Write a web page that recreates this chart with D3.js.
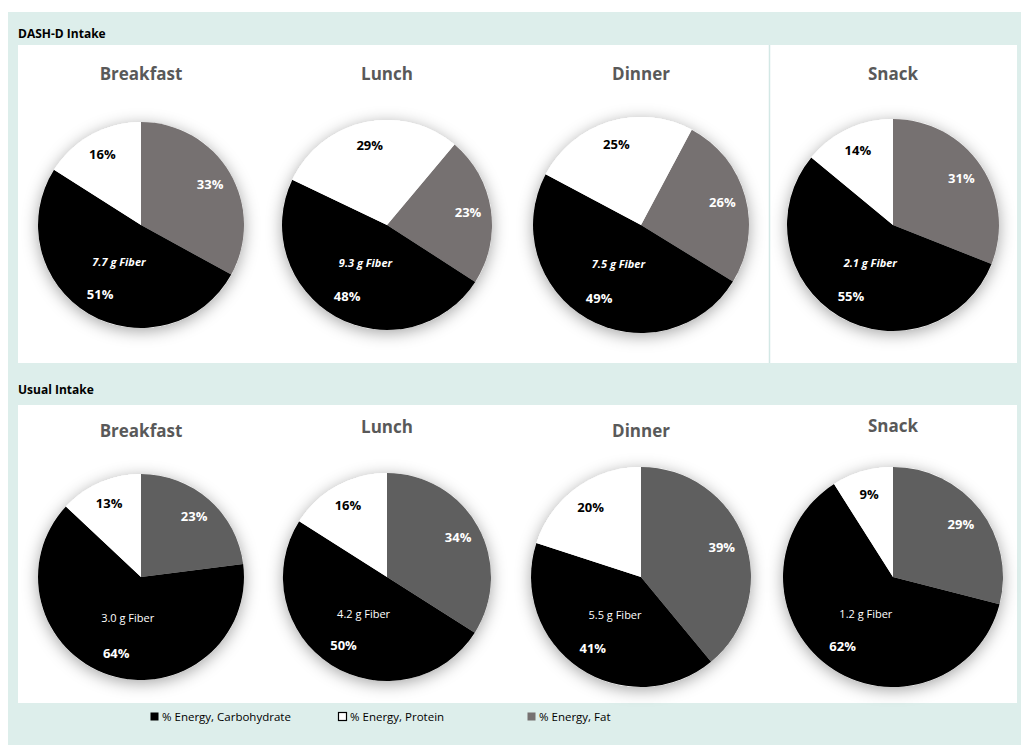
<!DOCTYPE html>
<html><head><meta charset="utf-8">
<script src="https://cdn.jsdelivr.net/npm/d3@7"></script>
<style>html,body{margin:0;padding:0;background:#fff;}svg{display:block;font-family:"Open Sans",sans-serif;}</style>
</head><body>
<svg id="chart" width="1021" height="753"></svg>
<script>
// ---- data ----
const meals = ["Breakfast", "Lunch", "Dinner", "Snack"];
const sections = ["DASH-D Intake", "Usual Intake"];
const seriesNames = ["% Energy, Carbohydrate", "% Energy, Protein", "% Energy, Fat"];
const dashCarb = [51, 48, 49, 55];
const dashProtein = [16, 29, 25, 14];
const dashFat = [33, 23, 26, 31];
const dashFiber = ["7.7 g Fiber", "9.3 g Fiber", "7.5 g Fiber", "2.1 g Fiber"];
const usualCarb = [64, 50, 41, 62];
const usualProtein = [13, 16, 20, 9];
const usualFat = [23, 34, 39, 29];
const usualFiber = ["3.0 g Fiber", "4.2 g Fiber", "5.5 g Fiber", "1.2 g Fiber"];

// ---- layout ----
const W = 1021, H = 753;
const teal = "#ddeeeb";
const colX = [141, 387, 641, 893];
const rowY = [225, 577];
const radii = [[103, 105, 108, 106], [103, 104, 110, 110]];
const startDeg = [[0, 40, 28, 0], [0, 0, 0, 0]];   // first-slice rotation per pie
const titleY = [[80, 80, 80, 80], [437, 433, 437, 432]];
const fatColor = ["#767171", "#5f5f5f"];

const svg = d3.select("#chart");
const defs = svg.append("defs");
const f = defs.append("filter").attr("id", "shadow").attr("x", "-40%").attr("y", "-40%").attr("width", "180%").attr("height", "180%");
f.append("feDropShadow").attr("dx", 0).attr("dy", 3).attr("stdDeviation", 8).attr("flood-color", "#000").attr("flood-opacity", 0.36);

// backgrounds
svg.append("rect").attr("x", 8).attr("y", 12).attr("width", W - 8).attr("height", 733).attr("fill", teal);
svg.append("rect").attr("x", 18).attr("y", 45).attr("width", 999).attr("height", 318).attr("fill", "#fff");
svg.append("rect").attr("x", 18).attr("y", 405).attr("width", 999).attr("height", 298).attr("fill", "#fff");
svg.append("line").attr("x1", 769.5).attr("x2", 769.5).attr("y1", 45).attr("y2", 363).attr("stroke", "#d3e8e5").attr("stroke-width", 1.5);

// section headers
const headerY = [38, 394];
sections.forEach((s, i) => {
  svg.append("text").attr("x", 18).attr("y", headerY[i]).attr("font-size", 12).attr("font-weight", 700)
    .attr("fill", "#000").text(s);
});

const allData = [
  { carb: dashCarb, protein: dashProtein, fat: dashFat, fiber: dashFiber, italic: true },
  { carb: usualCarb, protein: usualProtein, fat: usualFat, fiber: usualFiber, italic: false }
];

allData.forEach((sec, si) => {
  meals.forEach((m, mi) => {
    const cx = colX[mi], cy = rowY[si], r = radii[si][mi];
    const a0 = startDeg[si][mi] * Math.PI / 180;
    const pie = d3.pie().sort(null).value(d => d.v).startAngle(a0).endAngle(a0 + 2 * Math.PI);
    const slices = [
      { k: "fat", v: sec.fat[mi], fill: fatColor[si], lab: "#fff" },
      { k: "carb", v: sec.carb[mi], fill: "#000", lab: "#fff" },
      { k: "protein", v: sec.protein[mi], fill: "#fff", lab: "#000" }
    ];
    const g = svg.append("g").attr("transform", `translate(${cx},${cy})`);
    const arc = d3.arc().innerRadius(0).outerRadius(r);
    const labelArc = d3.arc().innerRadius(r * 0.56).outerRadius(r);
    const arcs = pie(slices);
    g.append("circle").attr("r", r).attr("fill", "#fff").attr("filter", "url(#shadow)");
    g.selectAll("path").data(arcs).join("path").attr("d", arc).attr("fill", d => d.data.fill);
    g.selectAll("text.pct").data(arcs).join("text").attr("class", "pct")
      .attr("transform", d => `translate(${labelArc.centroid(d)})`)
      .attr("text-anchor", "middle").attr("dy", "0.35em")
      .attr("font-size", 13).attr("font-weight", 700).attr("fill", d => d.data.lab)
      .text(d => d.data.v + "%");
    // fiber annotation inside carbohydrate slice
    const carbArc = arcs[1];
    const fa = d3.arc().innerRadius(0).outerRadius(r * 0.84);
    const [fx, fy] = fa.centroid(carbArc);
    g.append("text").attr("x", fx).attr("y", fy).attr("dy", "0.35em").attr("text-anchor", "middle")
      .attr("font-size", 11).attr("font-weight", sec.italic ? 700 : 400)
      .attr("font-style", sec.italic ? "italic" : "normal").attr("fill", "#fff")
      .text(sec.fiber[mi]);
    // title
    svg.append("text").attr("x", cx).attr("y", titleY[si][mi]).attr("text-anchor", "middle")
      .attr("font-size", 17).attr("font-weight", 700).attr("fill", "#595959").text(m);
  });
});

// legend
const legX = [150, 338, 527];
const legFill = ["#000", "#fff", "#767171"];
const lg = svg.append("g");
seriesNames.forEach((n, i) => {
  lg.append("rect").attr("x", legX[i] + 0.5).attr("y", 712.5).attr("width", 8).attr("height", 8)
    .attr("fill", legFill[i]).attr("stroke", i === 1 ? "#000" : "none").attr("stroke-width", 1.2);
  lg.append("text").attr("x", legX[i] + 12).attr("y", 721).attr("font-size", 11.5).attr("fill", "#000").text(n);
});
</script>
</body></html>
